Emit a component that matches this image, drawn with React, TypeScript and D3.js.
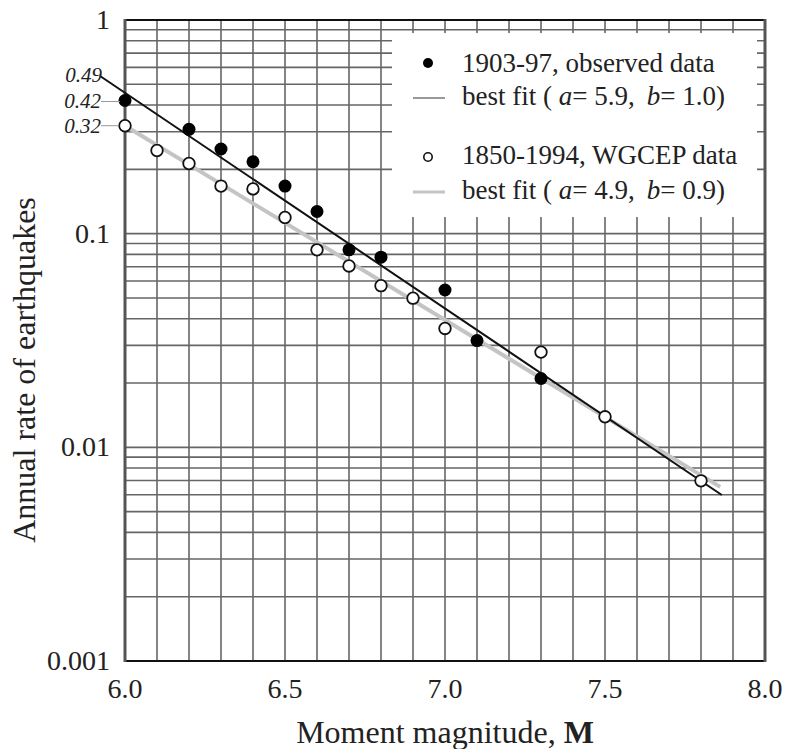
import React from 'react';
import * as d3 from 'd3';

// ---- Data ----
const observedM = [6.0, 6.2, 6.3, 6.4, 6.5, 6.6, 6.7, 6.8, 7.0, 7.1, 7.3];
const observedRate = [0.42, 0.308, 0.249, 0.217, 0.167, 0.127, 0.084, 0.0776, 0.0545, 0.0316, 0.021];
const wgcepM = [6.0, 6.1, 6.2, 6.3, 6.4, 6.5, 6.6, 6.7, 6.8, 6.9, 7.0, 7.3, 7.5, 7.8];
const wgcepRate = [0.32, 0.245, 0.213, 0.167, 0.162, 0.119, 0.084, 0.0706, 0.0571, 0.0499, 0.036, 0.0279, 0.0139, 0.00697];
const fitObservedM = [5.922, 7.865];
const fitObservedRate = [0.547, 0.00598];
const fitWgcepM = [6.0, 7.86];
const fitWgcepRate = [0.32, 0.00653];
const xTicks = [6.0, 6.5, 7.0, 7.5, 8.0];
const xTickLabels = ['6.0', '6.5', '7.0', '7.5', '8.0'];
const yTicks = [1, 0.1, 0.01, 0.001];
const yTickLabels = ['1', '0.1', '0.01', '0.001'];
const annotLabels = ['0.49', '0.42', '0.32'];
const legendLabels = ['1903-97, observed data', '1850-1994, WGCEP data'];
const fitA = ['5.9', '4.9'];
const fitB = ['1.0', '0.9'];

const FONT = '"Liberation Serif", "Times New Roman", serif';

export default function App() {
  const W = 786, H = 749;
  const x = d3.scaleLinear().domain([6, 8]).range([125, 765]);
  const y = d3.scaleLog().domain([0.001, 1]).range([661, 20]);

  const vGrid = d3.range(61, 80).map((v) => v / 10);
  const hGrid: number[] = [];
  [-3, -2, -1].forEach((e) => {
    for (let k = 1; k <= 9; k++) {
      const v = k * Math.pow(10, e);
      if (v > 0.001 && v < 1) hGrid.push(v);
    }
  });

  const line = d3
    .line<[number, number]>()
    .x((d) => x(d[0]))
    .y((d) => y(d[1]));

  const fitObs = fitObservedM.map((m, i) => [m, fitObservedRate[i]] as [number, number]);
  const fitW = fitWgcepM.map((m, i) => [m, fitWgcepRate[i]] as [number, number]);

  const legX = 392, legY = 33, legW = 365, legH = 184;

  return (
    <svg
      width={W}
      height={H}
      style={{ position: 'absolute', left: 0, top: 0, background: '#fff' }}
      fontFamily={FONT}
    >
      <rect x={0} y={0} width={W} height={H} fill="#fff" />
      {/* grid */}
      <g stroke="#666" strokeWidth={1.6}>
        {vGrid.map((v) => (
          <line key={'v' + v} x1={x(v)} x2={x(v)} y1={y(1)} y2={y(0.001)} />
        ))}
        {hGrid.map((v) => (
          <line key={'h' + v} x1={x(6)} x2={x(8)} y1={y(v)} y2={y(v)} />
        ))}
      </g>
      {/* legend background */}
      <rect x={legX} y={legY} width={legW} height={legH} fill="#fff" />
      {/* frame */}
      <line x1={x(6)} x2={x(8)} y1={y(1)} y2={y(1)} stroke="#111" strokeWidth={2} />
      <line x1={x(6)} x2={x(8)} y1={y(0.001)} y2={y(0.001)} stroke="#111" strokeWidth={2} />
      <line x1={x(6)} x2={x(6)} y1={y(1) - 1} y2={y(0.001) + 1} stroke="#555" strokeWidth={3} />
      <line x1={x(8)} x2={x(8)} y1={y(1) - 1} y2={y(0.001) + 1} stroke="#555" strokeWidth={3} />

      {/* fit lines */}
      <path d={line(fitW) || ''} fill="none" stroke="#c4c4c4" strokeWidth={4} />
      <path d={line(fitObs) || ''} fill="none" stroke="#111" strokeWidth={2} />

      {/* points */}
      {wgcepM.map((m, i) => (
        <circle key={'w' + i} cx={x(m)} cy={y(wgcepRate[i])} r={5.8} fill="#fff" stroke="#111" strokeWidth={1.8} />
      ))}
      {observedM.map((m, i) => (
        <circle key={'o' + i} cx={x(m)} cy={y(observedRate[i])} r={6.5} fill="#000" />
      ))}

      {/* annotation labels */}
      <g fontStyle="italic" fontSize={21} fill="#222" textAnchor="end">
        <text x={x(fitObservedM[0]) + 2} y={y(fitObservedRate[0]) + 6}>
          {annotLabels[0]}
        </text>
        <text x={101} y={y(observedRate[0]) + 8}>
          {annotLabels[1]}
        </text>
        <text x={101} y={y(wgcepRate[0]) + 7}>
          {annotLabels[2]}
        </text>
      </g>
      <line x1={101} x2={x(6) - 5} y1={y(observedRate[0]) + 1} y2={y(observedRate[0]) + 1} stroke="#999" strokeWidth={1} />
      <line x1={101} x2={x(6) - 6} y1={y(wgcepRate[0])} y2={y(wgcepRate[0])} stroke="#999" strokeWidth={1} />

      {/* y tick labels */}
      <g fontSize={28} fill="#222" textAnchor="end">
        {yTicks.map((t, i) => (
          <text key={'yt' + i} x={110} y={y(t) + 9}>
            {yTickLabels[i]}
          </text>
        ))}
      </g>
      {/* x tick labels */}
      <g fontSize={28} fill="#222" textAnchor="middle">
        {xTicks.map((t, i) => (
          <text key={'xt' + i} x={x(t)} y={698}>
            {xTickLabels[i]}
          </text>
        ))}
      </g>

      {/* axis titles */}
      <text x={445} y={743} fontSize={32} fill="#222" textAnchor="middle">
        Moment magnitude, <tspan fontWeight="bold">M</tspan>
      </text>
      <text
        transform={`translate(35, 370) rotate(-90)`}
        fontSize={32}
        fill="#222"
        textAnchor="middle"
      >
        Annual rate of earthquakes
      </text>

      {/* legend */}
      <g fontSize={27} fill="#222">
        <circle cx={428} cy={63} r={5} fill="#000" />
        <text x={462} y={72}>{legendLabels[0]}</text>
        <line x1={413} x2={445} y1={98} y2={98} stroke="#555" strokeWidth={1.2} />
        <text x={462} y={105}>
          best fit ( <tspan fontStyle="italic">a</tspan>= {fitA[0]},<tspan dx={12} fontStyle="italic">b</tspan>= {fitB[0]})
        </text>
        <circle cx={428} cy={157} r={4.2} fill="#fff" stroke="#111" strokeWidth={1.6} />
        <text x={462} y={164}>{legendLabels[1]}</text>
        <line x1={413} x2={445} y1={192} y2={192} stroke="#c4c4c4" strokeWidth={3} />
        <text x={462} y={199}>
          best fit ( <tspan fontStyle="italic">a</tspan>= {fitA[1]},<tspan dx={12} fontStyle="italic">b</tspan>= {fitB[1]})
        </text>
      </g>
    </svg>
  );
}
